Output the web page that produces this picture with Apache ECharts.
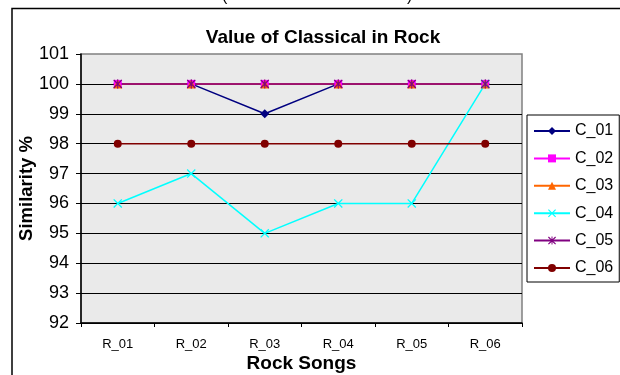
<!DOCTYPE html>
<html>
<head>
<meta charset="utf-8">
<script src="https://cdn.jsdelivr.net/npm/echarts@6/dist/echarts.min.js"></script>
<style>
  html, body { margin: 0; padding: 0; background: #fff; }
  #chart { width: 620px; height: 375px; }
</style>
</head>
<body>
<div id="chart"></div>
<script>
var songs = ['R_01', 'R_02', 'R_03', 'R_04', 'R_05', 'R_06']
var names = ['C_01', 'C_02', 'C_03', 'C_04', 'C_05', 'C_06']
var c01 = [100, 100, 99, 100, 100, 100]
var c02 = [100, 100, 100, 100, 100, 100]
var c03 = [100, 100, 100, 100, 100, 100]
var c04 = [96, 97, 95, 96, 96, 100]
var c05 = [100, 100, 100, 100, 100, 100]
var c06 = [98, 98, 98, 98, 98, 98]

var colors = ['#000080', '#ff00ff', '#ff6600', '#00ffff', '#800080', '#800000']
var crossPath = 'path://M0,1 L1,0 L5,4 L9,0 L10,1 L6,5 L10,9 L9,10 L5,6 L1,10 L0,9 L4,5 Z'
var starPath = 'path://M0,1 L1,0 L5,4 L9,0 L10,1 L6,5 L10,9 L9,10 L5,6 L1,10 L0,9 L4,5 Z M4.4,0 L5.6,0 L5.6,10 L4.4,10 Z'
var symbols = ['diamond', 'rect', 'triangle', crossPath, starPath, 'circle']
var sizes = [9, 8, 9, 9, 9, 8]
var values = [c01, c02, c03, c04, c05, c06]

var chart = echarts.init(document.getElementById('chart'))

var series = names.map(function (n, i) {
  return {
    name: n,
    type: 'line',
    data: values[i],
    symbol: symbols[i],
    symbolSize: sizes[i],
    showAllSymbol: true,
    lineStyle: { color: colors[i], width: 1.5 },
    itemStyle: { color: colors[i] },
    emphasis: { disabled: true }
  }
})

var option = {
  animation: false,
  textStyle: { fontFamily: 'Liberation Sans, Arial, sans-serif' },
  title: {
    text: 'Value of Classical in Rock',
    left: 318,
    textAlign: 'center',
    top: 23,
    textStyle: { fontSize: 19, fontWeight: 'bold', color: '#000' }
  },
  legend: {
    orient: 'vertical',
    left: 527,
    top: 115,
    width: 90,
    padding: [8, 6, 6, 6],
    itemGap: 11.4,
    itemWidth: 36,
    itemHeight: 10,
    backgroundColor: '#fff',
    borderColor: '#000',
    borderWidth: 1,
    textStyle: { fontSize: 16, color: '#000', lineHeight: 16 },
    data: names
  },
  graphic: [
    {
      type: 'rect',
      silent: true,
      shape: { x: 12, y: 8.5, width: 700, height: 500 },
      style: { fill: 'none', stroke: '#000', lineWidth: 1.5 }
    },
    {
      type: 'text', left: 222, top: -11,
      style: { text: '(', fontSize: 16, fill: '#000' }
    },
    {
      type: 'text', left: 407, top: -11,
      style: { text: ')', fontSize: 16, fill: '#000' }
    }
  ],
  grid: {
    show: true,
    left: 81,
    right: 98,
    top: 54,
    bottom: 52,
    outerBoundsMode: 'none',
    containLabel: false,
    backgroundColor: '#eaeaea',
    borderColor: '#808080',
    borderWidth: 1.5
  },
  xAxis: {
    type: 'category',
    data: songs,
    boundaryGap: true,
    name: 'Rock Songs',
    nameLocation: 'middle',
    nameGap: 31,
    nameMoveOverlap: false,
    nameTextStyle: { fontSize: 19, fontWeight: 'bold', color: '#000' },
    axisLine: { show: true, lineStyle: { color: '#000', width: 1.5 } },
    axisTick: { show: true, alignWithLabel: false, length: 4, lineStyle: { color: '#000' } },
    axisLabel: { fontSize: 13, color: '#000', margin: 15, interval: 0 },
    splitLine: { show: false }
  },
  yAxis: {
    type: 'value',
    min: 92,
    max: 101,
    interval: 1,
    name: 'Similarity %',
    nameLocation: 'middle',
    nameGap: 45,
    nameMoveOverlap: false,
    nameTextStyle: { fontSize: 18.5, fontWeight: 'bold', color: '#000' },
    axisLine: { show: true, lineStyle: { color: '#000', width: 1.5 } },
    axisTick: { show: true, length: 5, lineStyle: { color: '#000' } },
    axisLabel: { fontSize: 18, color: '#000', margin: 12 },
    splitLine: { show: true, showMaxLine: false, lineStyle: { color: '#000', width: 1 } }
  },
  series: series
}
chart.setOption(option)
</script>
</body>
</html>
